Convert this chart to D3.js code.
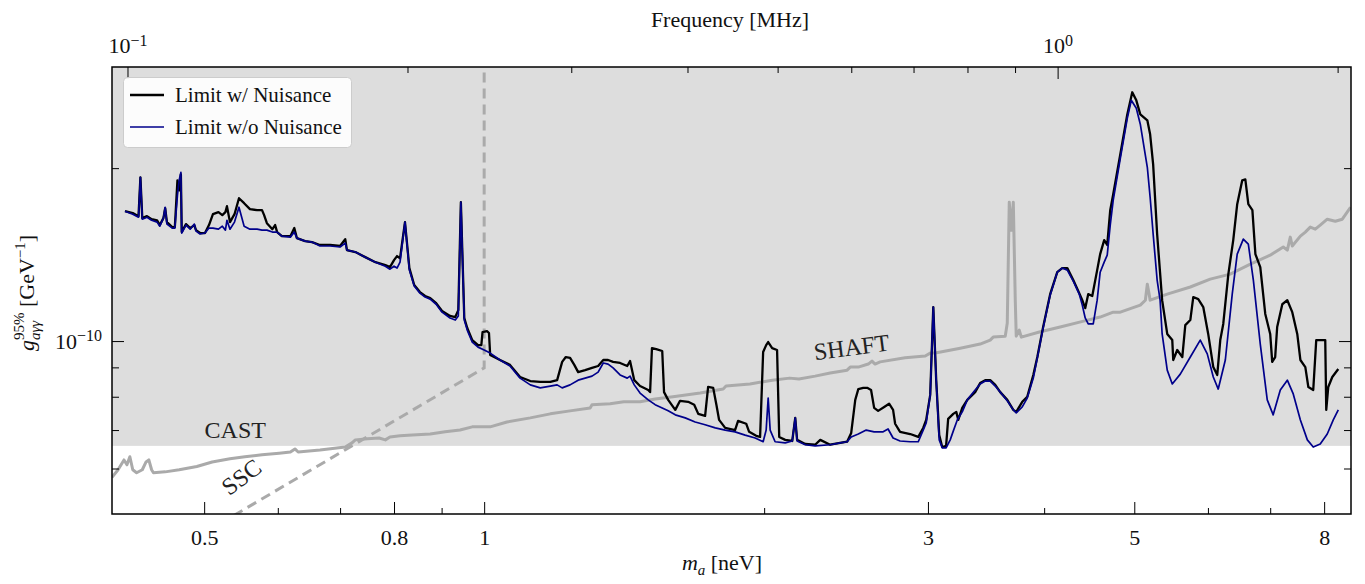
<!DOCTYPE html>
<html>
<head>
<meta charset="utf-8">
<script src="https://cdn.jsdelivr.net/npm/d3@7"></script>
<style>
body { margin: 0; background: #fff; }
text { font-family: "Liberation Serif", "Times New Roman", serif; fill: #111; }
</style>
</head>
<body>
<div class="canvas"></div>
<script>
// axion mass m_a [neV] and 95% limit on g_agg [1e-10 GeV^-1]
var limitNuis = [
  [0.411,1.683],[0.419,1.670],[0.425,1.650],[0.427,1.928],[0.429,1.637],[0.434,1.650],[0.439,1.630],[0.445,1.623],
  [0.448,1.592],[0.452,1.637],[0.454,1.703],[0.456,1.611],[0.462,1.579],[0.465,1.579],[0.468,1.905],[0.470,1.830],
  [0.472,1.951],[0.473,1.548],[0.478,1.598],[0.483,1.573],[0.488,1.592],[0.490,1.560],[0.495,1.542],[0.501,1.542],
  [0.506,1.592],[0.511,1.663],[0.518,1.677],[0.523,1.657],[0.527,1.677],[0.529,1.717],[0.533,1.611],[0.539,1.663],
  [0.545,1.773],[0.552,1.738],[0.560,1.697],[0.570,1.690],[0.577,1.690],[0.580,1.657],[0.584,1.604],[0.592,1.566],
  [0.596,1.592],[0.599,1.548],[0.606,1.523],[0.619,1.523],[0.625,1.573],[0.629,1.511],[0.642,1.493],[0.653,1.487],
  [0.666,1.470],[0.683,1.470],[0.700,1.464],[0.709,1.505],[0.712,1.440],[0.727,1.429],[0.745,1.400],[0.764,1.372],
  [0.783,1.356],[0.792,1.345],[0.800,1.383],[0.806,1.406],[0.812,1.394],[0.822,1.611],[0.831,1.340],[0.841,1.252],
  [0.853,1.217],[0.864,1.198],[0.875,1.188],[0.888,1.164],[0.901,1.128],[0.919,1.106],[0.931,1.101],[0.938,1.132],
  [0.944,1.745],[0.952,1.097],[0.959,1.054],[0.971,1.004],[0.985,0.984],[0.993,0.984],[0.996,1.037],[1.007,1.041],
  [1.012,1.033],[1.015,0.946],[1.040,0.927],[1.066,0.909],[1.093,0.866],[1.121,0.852],[1.149,0.849],[1.178,0.849],
  [1.198,0.855],[1.213,0.920],[1.224,0.938],[1.237,0.935],[1.250,0.909],[1.262,0.883],[1.284,0.890],[1.306,0.898],
  [1.326,0.905],[1.343,0.927],[1.359,0.927],[1.376,0.920],[1.400,0.916],[1.425,0.905],[1.435,0.923],[1.450,0.855],
  [1.471,0.835],[1.501,0.822],[1.508,0.815],[1.515,0.972],[1.531,0.968],[1.554,0.961],[1.561,0.815],[1.577,0.790],
  [1.605,0.759],[1.624,0.787],[1.657,0.784],[1.682,0.775],[1.699,0.747],[1.728,0.741],[1.741,0.832],[1.763,0.829],
  [1.777,0.775],[1.789,0.729],[1.816,0.706],[1.861,0.700],[1.875,0.726],[1.913,0.718],[1.927,0.695],[1.961,0.684],
  [1.980,0.681],[1.995,0.957],[2.010,0.984],[2.020,0.996],[2.040,0.972],[2.065,0.965],[2.076,0.681],[2.107,0.673],
  [2.144,0.670],[2.160,0.735],[2.170,0.673],[2.214,0.662],[2.269,0.660],[2.298,0.673],[2.355,0.660],[2.414,0.665],
  [2.456,0.668],[2.481,0.692],[2.506,0.790],[2.525,0.825],[2.556,0.829],[2.581,0.829],[2.606,0.822],[2.626,0.765],
  [2.652,0.756],[2.692,0.768],[2.725,0.778],[2.752,0.759],[2.766,0.718],[2.800,0.695],[2.871,0.689],[2.929,0.681],
  [2.965,0.706],[2.987,0.729],[3.017,0.806],[3.040,1.146],[3.062,0.855],[3.085,0.686],[3.108,0.654],[3.138,0.657],
  [3.154,0.732],[3.194,0.747],[3.218,0.753],[3.234,0.729],[3.266,0.765],[3.307,0.790],[3.372,0.815],[3.414,0.845],
  [3.457,0.855],[3.500,0.855],[3.544,0.839],[3.588,0.815],[3.651,0.790],[3.706,0.759],[3.733,0.753],[3.789,0.784],
  [3.836,0.800],[3.894,0.873],[3.933,0.938],[3.990,1.058],[4.060,1.207],[4.132,1.318],[4.183,1.340],[4.236,1.340],
  [4.299,1.277],[4.363,1.212],[4.396,1.178],[4.428,1.141],[4.461,1.207],[4.506,1.198],[4.561,1.329],[4.595,1.417],
  [4.641,1.499],[4.676,1.470],[4.711,1.690],[4.746,1.801],[4.830,2.115],[4.914,2.481],[4.975,2.711],[5.025,2.625],
  [5.075,2.481],[5.164,2.423],[5.200,2.291],[5.239,2.031],[5.291,1.536],[5.357,1.178],[5.425,1.029],[5.493,1.004],
  [5.506,0.927],[5.561,0.965],[5.631,0.938],[5.673,1.066],[5.744,1.088],[5.786,1.193],[5.858,1.183],[5.931,1.146],
  [6.004,1.029],[6.080,0.901],[6.140,0.873],[6.186,1.004],[6.232,1.071],[6.311,1.308],[6.388,1.499],[6.451,1.731],
  [6.532,1.905],[6.582,1.912],[6.631,1.731],[6.698,1.690],[6.748,1.417],[6.830,1.345],[6.915,1.115],[7.000,1.029],
  [7.035,0.920],[7.087,0.938],[7.122,1.058],[7.213,1.159],[7.303,1.178],[7.393,1.123],[7.485,1.029],[7.543,0.927],
  [7.636,0.901],[7.693,0.832],[7.787,0.822],[7.845,1.004],[8.022,1.004],[8.042,0.759],[8.082,0.832],[8.163,0.866],
  [8.285,0.894]
];

var limitFree = [
  [0.411,1.683],[0.419,1.663],[0.425,1.643],[0.427,1.928],[0.429,1.630],[0.434,1.643],[0.439,1.623],[0.445,1.611],
  [0.448,1.585],[0.452,1.637],[0.454,1.710],[0.456,1.598],[0.462,1.573],[0.465,1.573],[0.468,1.794],[0.470,1.905],
  [0.472,1.967],[0.473,1.542],[0.478,1.592],[0.483,1.566],[0.488,1.598],[0.490,1.554],[0.495,1.536],[0.501,1.542],
  [0.506,1.573],[0.511,1.573],[0.518,1.566],[0.523,1.585],[0.527,1.560],[0.529,1.623],[0.533,1.566],[0.539,1.611],
  [0.545,1.710],[0.552,1.585],[0.560,1.566],[0.570,1.566],[0.577,1.560],[0.584,1.560],[0.592,1.548],[0.599,1.548],
  [0.606,1.523],[0.619,1.517],[0.625,1.548],[0.629,1.511],[0.642,1.493],[0.653,1.487],[0.666,1.464],[0.683,1.464],
  [0.700,1.458],[0.709,1.481],[0.712,1.440],[0.727,1.429],[0.745,1.400],[0.764,1.372],[0.783,1.350],[0.792,1.334],
  [0.800,1.350],[0.806,1.340],[0.812,1.372],[0.822,1.611],[0.831,1.329],[0.841,1.247],[0.853,1.212],[0.864,1.193],
  [0.875,1.183],[0.888,1.159],[0.901,1.123],[0.919,1.097],[0.931,1.088],[0.938,1.106],[0.944,1.745],[0.952,1.088],
  [0.959,1.045],[0.971,0.996],[0.985,0.976],[1.000,0.965],[1.015,0.953],[1.040,0.927],[1.066,0.905],[1.093,0.862],
  [1.121,0.839],[1.149,0.829],[1.178,0.835],[1.198,0.839],[1.213,0.829],[1.237,0.839],[1.262,0.855],[1.284,0.862],
  [1.306,0.869],[1.326,0.883],[1.343,0.916],[1.359,0.912],[1.376,0.898],[1.400,0.873],[1.425,0.862],[1.435,0.869],
  [1.450,0.839],[1.471,0.812],[1.501,0.790],[1.527,0.775],[1.554,0.765],[1.577,0.756],[1.605,0.744],[1.645,0.735],
  [1.686,0.723],[1.728,0.715],[1.772,0.706],[1.816,0.700],[1.861,0.695],[1.908,0.686],[1.956,0.678],[1.995,0.668],
  [2.010,0.700],[2.020,0.796],[2.030,0.700],[2.055,0.668],[2.107,0.665],[2.144,0.670],[2.160,0.735],[2.170,0.670],
  [2.214,0.660],[2.269,0.657],[2.355,0.660],[2.414,0.665],[2.456,0.668],[2.481,0.681],[2.525,0.689],[2.575,0.700],
  [2.626,0.695],[2.685,0.695],[2.718,0.703],[2.752,0.678],[2.800,0.670],[2.871,0.668],[2.929,0.668],[2.965,0.700],
  [2.987,0.720],[3.017,0.806],[3.040,1.146],[3.062,0.855],[3.085,0.673],[3.108,0.652],[3.138,0.652],[3.170,0.673],
  [3.194,0.697],[3.226,0.729],[3.266,0.753],[3.307,0.790],[3.372,0.822],[3.414,0.842],[3.457,0.852],[3.500,0.852],
  [3.544,0.835],[3.588,0.815],[3.651,0.787],[3.706,0.759],[3.733,0.750],[3.789,0.768],[3.836,0.796],[3.894,0.862],
  [3.933,0.935],[3.990,1.054],[4.060,1.202],[4.132,1.318],[4.183,1.340],[4.236,1.329],[4.299,1.272],[4.363,1.207],
  [4.396,1.155],[4.428,1.097],[4.461,1.071],[4.517,1.071],[4.561,1.178],[4.595,1.318],[4.641,1.372],[4.676,1.411],
  [4.711,1.592],[4.746,1.759],[4.830,2.081],[4.914,2.443],[4.963,2.625],[5.025,2.543],[5.075,2.385],[5.164,2.007],
  [5.200,1.780],[5.239,1.536],[5.291,1.277],[5.330,1.178],[5.357,1.029],[5.425,0.890],[5.493,0.842],[5.603,0.876],
  [5.744,0.938],[5.887,1.004],[5.990,0.950],[6.080,0.866],[6.155,0.825],[6.264,0.927],[6.372,1.207],[6.451,1.417],
  [6.549,1.505],[6.631,1.475],[6.714,1.277],[6.830,0.988],[6.949,0.790],[7.052,0.744],[7.177,0.822],[7.303,0.855],
  [7.411,0.809],[7.543,0.729],[7.674,0.673],[7.787,0.654],[7.923,0.662],[8.062,0.689],[8.183,0.729],[8.285,0.759]
];

var shaftLimit = [
  [0.398,0.579],[0.404,0.597],[0.410,0.621],[0.413,0.609],[0.416,0.629],[0.419,0.597],[0.423,0.590],[0.429,0.597],
  [0.433,0.616],[0.436,0.621],[0.439,0.597],[0.441,0.590],[0.454,0.592],[0.470,0.597],[0.491,0.605],[0.510,0.616],
  [0.533,0.624],[0.553,0.629],[0.577,0.634],[0.602,0.638],[0.619,0.641],[0.626,0.649],[0.631,0.641],[0.666,0.646],
  [0.709,0.654],[0.721,0.665],[0.727,0.673],[0.749,0.676],[0.771,0.678],[0.783,0.673],[0.792,0.681],[0.812,0.684],
  [0.837,0.686],[0.875,0.689],[0.908,0.695],[0.942,0.700],[0.971,0.709],[1.015,0.709],[1.058,0.723],[1.121,0.735],
  [1.178,0.747],[1.237,0.756],[1.300,0.765],[1.306,0.775],[1.366,0.778],[1.413,0.784],[1.471,0.784],[1.527,0.793],
  [1.596,0.800],[1.707,0.812],[1.807,0.825],[1.820,0.835],[1.931,0.842],[2.041,0.855],[2.130,0.862],[2.180,0.859],
  [2.269,0.869],[2.355,0.880],[2.456,0.890],[2.475,0.901],[2.525,0.901],[2.588,0.912],[2.612,0.923],[2.632,0.912],
  [2.665,0.920],[2.835,0.935],[2.980,0.942],[3.017,0.953],[3.055,0.953],[3.250,0.972],[3.414,0.988],[3.500,1.004],
  [3.526,1.016],[3.633,1.020],[3.651,1.075],[3.669,1.745],[3.688,1.560],[3.706,1.745],[3.724,1.178],[3.733,1.020],
  [3.761,1.045],[3.780,1.016],[3.953,1.037],[4.162,1.058],[4.378,1.080],[4.595,1.101],[4.746,1.123],[4.830,1.123],
  [5.075,1.155],[5.139,1.178],[5.164,1.256],[5.190,1.202],[5.200,1.178],[5.425,1.207],[5.744,1.242],[6.034,1.282],
  [6.340,1.308],[6.664,1.361],[7.000,1.411],[7.230,1.458],[7.303,1.440],[7.357,1.517],[7.393,1.464],[7.543,1.523],
  [7.636,1.548],[7.730,1.579],[7.826,1.566],[7.923,1.592],[8.062,1.630],[8.224,1.617],[8.368,1.630],[8.540,1.710]
];

var sscLimit = [[0.52,0.481],[1.0,0.898],[1.0,3.2]];
var castLimit = 0.657;

var xTicksLabeled = [0.5, 0.8, 1, 3, 5, 8],
    xTicksMinor = [0.6, 0.7, 0.9, 2, 4, 6, 7];
var freqTicksMajor = [0.1, 1],
    freqTicksMinor = [0.2, 0.3, 0.4, 0.5, 0.6, 0.7, 0.8, 0.9, 2];
var yTicksMajor = [1],
    yTicksMinor = [0.6, 0.7, 0.8, 0.9, 2];
var yUnitExp = -10;   // limits are stored in units of 1e-10 GeV^-1
var mhzPerNeV = 0.2418;

// where does it live
var width = 1365, height = 584,
    plot = {left: 112, right: 1351, top: 67, bottom: 514};

var svg = d3.select('.canvas').append('svg')
    .attr('width', width)
    .attr('height', height)
    .attr('font-family', '"Liberation Serif", serif');

var x = d3.scaleLog().domain([0.398, 8.55]).range([plot.left, plot.right]),
    xf = d3.scaleLog().domain([0.398 * mhzPerNeV, 8.55 * mhzPerNeV]).range([plot.left, plot.right]),
    y = d3.scaleLog().domain([0.5, 3.0]).range([plot.bottom, plot.top]);

svg.append('clipPath').attr('id', 'clip')
    .append('rect')
    .attr('x', plot.left).attr('y', plot.top)
    .attr('width', plot.right - plot.left)
    .attr('height', plot.bottom - plot.top);

var g = svg.append('g').attr('clip-path', 'url(#clip)');

// excluded region above CAST
g.append('rect')
    .attr('x', plot.left).attr('y', plot.top)
    .attr('width', plot.right - plot.left)
    .attr('height', y(castLimit) - plot.top)
    .attr('fill', '#dddddd');

var line = d3.line()
    .x(function (d) { return x(d[0]); })
    .y(function (d) { return y(d[1]); });

g.append('path').datum(shaftLimit)
    .attr('d', line).attr('fill', 'none')
    .attr('stroke', '#aaaaaa').attr('stroke-width', 3)
    .attr('stroke-linejoin', 'round');

g.append('path').datum(sscLimit)
    .attr('d', line).attr('fill', 'none')
    .attr('stroke', '#aaaaaa').attr('stroke-width', 3)
    .attr('stroke-dasharray', '10,6');

g.append('path').datum(limitNuis)
    .attr('d', line).attr('fill', 'none')
    .attr('stroke', '#000000').attr('stroke-width', 2.3)
    .attr('stroke-linejoin', 'round');

g.append('path').datum(limitFree)
    .attr('d', line).attr('fill', 'none')
    .attr('stroke', '#00008b').attr('stroke-width', 1.7)
    .attr('stroke-linejoin', 'round');

// annotations
svg.append('text')
    .attr('x', x(0.54)).attr('y', y(0.678))
    .attr('text-anchor', 'middle')
    .style('font-size', '24px').style('fill', '#222')
    .text('CAST');

svg.append('text')
    .attr('transform', 'translate(' + x(2.49) + ',' + y(0.945) + ') rotate(-7.5)')
    .attr('text-anchor', 'middle')
    .style('font-size', '24px').style('fill', '#222')
    .text('SHAFT');

svg.append('text')
    .attr('transform', 'translate(' + x(0.555) + ',' + y(0.565) + ') rotate(-37)')
    .attr('text-anchor', 'middle')
    .style('font-size', '24px').style('fill', '#222')
    .text('SSC');

// axes, ticks pointing in
function styleAxis(sel) {
    sel.attr('font-family', '"Liberation Serif", serif');
    sel.select('.domain').remove();
    sel.selectAll('line').attr('stroke', '#000').attr('stroke-width', 1);
    sel.selectAll('text').style('font-size', '22px').attr('fill', '#111');
}

function powerLabel(offset) {
    return function (sel) {
        sel.selectAll('.tick text').each(function (d) {
            var t = d3.select(this), e = Math.round(Math.log10(d)) + offset;
            t.text('');
            t.append('tspan').text('10');
            t.append('tspan').attr('dy', '-0.45em').style('font-size', '16px')
                .text(String(e).replace('-', '\u2212'));
        });
    };
}

svg.append('g').attr('transform', 'translate(0,' + plot.bottom + ')')
    .call(d3.axisBottom(x).tickValues(xTicksLabeled).tickSize(-12).tickPadding(15)
        .tickFormat(function (d) { return String(d); }))
    .call(styleAxis);
svg.append('g').attr('transform', 'translate(0,' + plot.bottom + ')')
    .call(d3.axisBottom(x).tickValues(xTicksMinor).tickSize(-6).tickFormat(''))
    .call(styleAxis);

svg.append('g').attr('transform', 'translate(0,' + plot.top + ')')
    .call(d3.axisTop(xf).tickValues(freqTicksMajor).tickSize(-12).tickPadding(14))
    .call(styleAxis).call(powerLabel(0));
svg.append('g').attr('transform', 'translate(0,' + plot.top + ')')
    .call(d3.axisTop(xf).tickValues(freqTicksMinor).tickSize(-6).tickFormat(''))
    .call(styleAxis);

svg.append('g').attr('transform', 'translate(' + plot.left + ',0)')
    .call(d3.axisLeft(y).tickValues(yTicksMajor).tickSize(-12).tickPadding(10))
    .call(styleAxis).call(powerLabel(yUnitExp));
svg.append('g').attr('transform', 'translate(' + plot.left + ',0)')
    .call(d3.axisLeft(y).tickValues(yTicksMinor).tickSize(-7).tickFormat(''))
    .call(styleAxis);
svg.append('g').attr('transform', 'translate(' + plot.right + ',0)')
    .call(d3.axisRight(y).tickValues(yTicksMajor).tickSize(-12).tickFormat(''))
    .call(styleAxis);
svg.append('g').attr('transform', 'translate(' + plot.right + ',0)')
    .call(d3.axisRight(y).tickValues(yTicksMinor).tickSize(-7).tickFormat(''))
    .call(styleAxis);

// frame
svg.append('rect')
    .attr('x', plot.left).attr('y', plot.top)
    .attr('width', plot.right - plot.left)
    .attr('height', plot.bottom - plot.top)
    .attr('fill', 'none').attr('stroke', '#000').attr('stroke-width', 1.5);

// axis titles
svg.append('text')
    .attr('x', 730).attr('y', 27)
    .attr('text-anchor', 'middle').style('font-size', '22px')
    .text('Frequency [MHz]');

var xl = svg.append('text')
    .attr('x', 722).attr('y', 570)
    .attr('text-anchor', 'middle').style('font-size', '22px');
xl.append('tspan').style('font-style', 'italic').text('m');
xl.append('tspan').attr('dy', 5).style('font-size', '15px').style('font-style', 'italic').text('a');
xl.append('tspan').attr('dy', -5).text(' [neV]');

var yl = svg.append('text')
    .attr('transform', 'translate(34,293) rotate(-90)')
    .attr('text-anchor', 'middle').style('font-size', '22px');
yl.append('tspan').style('font-style', 'italic').text('g');
var sub = yl.append('tspan').attr('dy', 6).style('font-size', '15px').style('font-style', 'italic').text('a\u03b3\u03b3');
var subW = sub.node().getComputedTextLength();
var sup = yl.append('tspan').attr('dx', -subW).attr('dy', -16).style('font-size', '15px').text('95%');
var supW = sup.node().getComputedTextLength();
yl.append('tspan').attr('dx', Math.max(0, subW - supW)).attr('dy', 10).text(' [GeV');
yl.append('tspan').attr('dy', -9).style('font-size', '15px').text('\u22121');
yl.append('tspan').attr('dy', 9).text(']');

// legend
var leg = svg.append('g');
leg.append('rect')
    .attr('x', 123.5).attr('y', 77.5).attr('width', 228).attr('height', 70)
    .attr('rx', 4).attr('fill', '#fff').attr('fill-opacity', 0.9)
    .attr('stroke', '#cccccc');
var legendItems = [
    {label: 'Limit w/ Nuisance', color: '#000000', w: 2.3},
    {label: 'Limit w/o Nuisance', color: '#00008b', w: 1.7}
];
legendItems.forEach(function (d, i) {
    var yy = 95 + i * 32;
    leg.append('line')
        .attr('x1', 130).attr('x2', 164).attr('y1', yy).attr('y2', yy)
        .attr('stroke', d.color).attr('stroke-width', d.w);
    leg.append('text')
        .attr('x', 175).attr('y', yy + 7)
        .style('font-size', '21px')
        .text(d.label);
});
</script>
</body>
</html>
